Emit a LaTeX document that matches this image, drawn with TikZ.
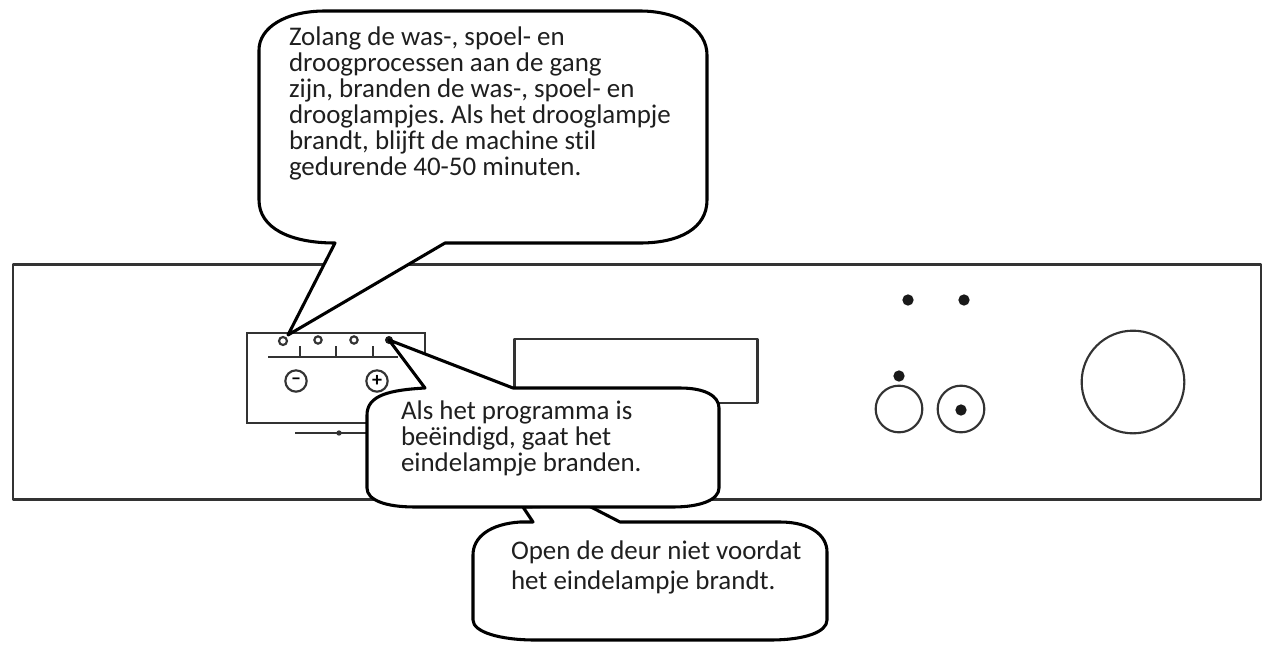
\documentclass[tikz,border=0pt]{standalone}
\usepackage{fontspec}
\setmainfont[Ligatures=NoCommon]{Carlito}
\frenchspacing
\tikzset{x=0.75pt,y=-0.75pt,
 ln/.style={draw=black!80,line width=1.6pt,line join=round},
 thin/.style={draw=black!80,line width=1.6pt},
 bub/.style={draw=black,line width=2.3pt,fill=white,line join=round},
 txt/.style={anchor=north west,inner sep=0pt,outer sep=0pt,align=left,text=black!88,font=\fontsize{20.2}{19.5}\selectfont},
 dot/.style={circle,fill=black!90,inner sep=0pt,minimum size=8.5pt},
 ring/.style={circle,draw=black!80,line width=1.6pt,inner sep=0pt,fill=white}}
\begin{document}
\begin{tikzpicture}
\useasboundingbox (0,0) rectangle (1268,646);
\fill[white] (0,0) rectangle (1268,646);
\node[ln,minimum width=1248*0.75pt,minimum height=235*0.75pt,inner sep=0pt] (panel) at (637,382) {};
\node[thin,minimum width=178*0.75pt,minimum height=90*0.75pt,inner sep=0pt] (ctrl) at (336,378) {};
\node[ln,minimum width=243*0.75pt,minimum height=64*0.75pt,inner sep=0pt] (disp) at (636,371) {};
\draw[thin] (268,357) -- (398,357);
\draw[thin] (300,346) -- (300,357) (336,346) -- (336,357) (373,346) -- (373,357);
\draw[thin] (295,433) -- (370,433);
\fill[black!80] (339,433) circle (2pt);
\node[ring,minimum size=6pt] (l1) at (283,341) {};
\node[ring,minimum size=5.5pt] (l2) at (318,340) {};
\node[ring,minimum size=5.5pt] (l3) at (354,340) {};
\node[dot,minimum size=6pt] (l4) at (389,340) {};
\node[ring,minimum size=16pt,font=\bfseries\fontsize{15}{15}\selectfont,inner sep=0pt] (minus) at (296,381) {–};
\node[ring,minimum size=16pt,font=\bfseries\fontsize{15}{15}\selectfont,inner sep=0pt] (plus) at (377,381) {+};
\node[dot] (d1) at (908,300) {};
\node[dot] (d2) at (964,300) {};
\node[dot] (d3) at (899,376) {};
\node[ring,minimum size=35pt] (k1) at (899,409) {};
\node[ring,minimum size=35pt] (k2) at (961,409) {};
\node[dot] (d4) at (961,410) {};
\node[ring,minimum size=77pt] (k3) at (1133,382) {};
% top bubble
\draw[bub] (288,335) -- (335,243) .. controls (290,243) and (259,228) .. (259,200)
 -- (259,50) .. controls (259,28) and (285,11) .. (325,11)
 -- (640,11) .. controls (680,11) and (707,30) .. (707,55)
 -- (707,200) .. controls (707,228) and (680,243) .. (640,243)
 -- (445,243) -- cycle;
\node[txt] (t1) at (289,27) {Zolang de was-, spoel- en\\droogprocessen aan de gang\\zijn, branden de was-, spoel- en\\drooglampjes. Als het drooglampje\\brandt, blijft de machine stil\\gedurende 40-50 minuten.};
% bottom bubble
\draw[bub] (523,507) -- (533,522) -- (520,522) .. controls (490,524) and (473,537) .. (473,555)
 -- (473,620) .. controls (473,632) and (500,640) .. (535,640)
 -- (770,640) .. controls (805,640) and (827,632) .. (827,620)
 -- (827,552) .. controls (827,535) and (810,522) .. (780,522)
 -- (620,522) -- (587,505) -- cycle;
\node[txt] (t3) at (511,541) {Open de deur niet voordat\\[3pt]het eindelampje brandt.};
% middle bubble
\draw[bub] (389,340) -- (425,388) .. controls (390,390) and (367,395) .. (367,415)
 -- (367,488) .. controls (367,500) and (385,507) .. (415,507)
 -- (673,507) .. controls (700,507) and (719,500) .. (719,488)
 -- (719,408) .. controls (719,396) and (705,388) .. (680,388)
 -- (513,388) -- cycle;
\node[txt] (t2) at (401,401) {Als het programma is\\beëindigd, gaat het\\eindelampje branden.};
\end{tikzpicture}
\end{document}
